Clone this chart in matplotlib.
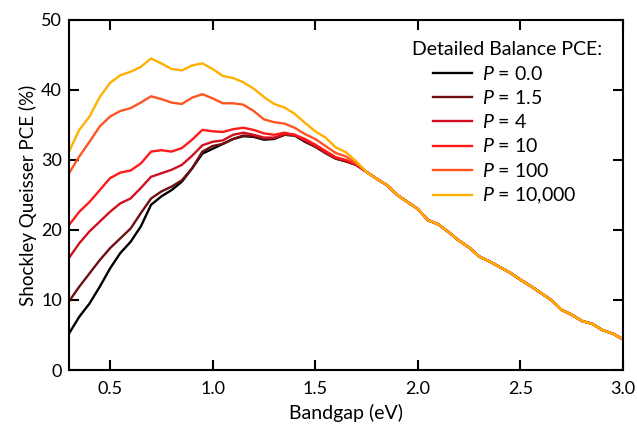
import matplotlib
matplotlib.use("Agg")
import matplotlib.pyplot as plt
import numpy as np

plt.rcParams['font.family'] = ['Lato', 'DejaVu Sans']
plt.rcParams['mathtext.fontset'] = 'custom'
plt.rcParams['mathtext.it'] = 'Lato:italic'
plt.rcParams['mathtext.rm'] = 'Lato'

bandgap = [round(0.30 + 0.05 * i, 2) for i in range(55)]

tail_common = [28.3, 27.3, 26.4, 25.0, 24.0, 23.0, 21.4, 20.8, 19.7, 18.5,
               17.5, 16.2, 15.5, 14.7, 13.9, 12.9, 12.0, 11.0, 10.0, 8.6,
               7.9, 7.0, 6.6, 5.7, 5.2, 4.4]

pce_p0 = [5.2, 7.6, 9.5, 11.9, 14.5, 16.7, 18.3, 20.5, 23.6, 24.8,
          25.7, 26.9, 28.8, 30.9, 31.6, 32.3, 33.0, 33.4, 33.3, 32.9,
          33.0, 33.6, 33.5, 32.6, 31.9, 31.0, 30.2, 29.8, 29.3]
pce_p1_5 = [9.8, 11.9, 13.8, 15.7, 17.4, 18.8, 20.2, 22.4, 24.5, 25.5,
            26.2, 27.1, 28.8, 31.2, 32.0, 32.3, 33.0, 33.5, 33.4, 33.0,
            33.1, 33.6, 33.5, 32.7, 31.9, 31.0, 30.2, 29.8, 29.3]
pce_p4 = [16.0, 18.1, 19.8, 21.2, 22.6, 23.8, 24.5, 26.0, 27.6, 28.1,
          28.6, 29.3, 30.6, 32.1, 32.6, 32.8, 33.6, 33.9, 33.6, 33.2,
          33.2, 33.7, 33.6, 32.8, 32.0, 31.1, 30.3, 29.9, 29.3]
pce_p10 = [20.7, 22.6, 24.0, 25.7, 27.4, 28.2, 28.5, 29.5, 31.2, 31.4,
           31.2, 31.7, 32.9, 34.3, 34.1, 34.0, 34.4, 34.6, 34.3, 33.8,
           33.6, 33.9, 33.6, 33.0, 32.2, 31.3, 30.4, 30.0, 29.4]
pce_p100 = [28.1, 30.5, 32.6, 34.8, 36.2, 37.0, 37.4, 38.2, 39.1, 38.7,
            38.2, 38.0, 38.9, 39.4, 38.8, 38.1, 38.1, 37.9, 37.0, 35.8,
            35.4, 35.2, 34.6, 33.7, 33.0, 32.0, 31.0, 30.5, 29.5]
pce_p10000 = [31.2, 34.3, 36.2, 39.0, 41.0, 42.1, 42.6, 43.3, 44.5, 43.8,
              43.0, 42.8, 43.5, 43.8, 43.0, 42.0, 41.7, 41.1, 40.2, 39.0,
              38.0, 37.5, 36.6, 35.3, 34.1, 33.2, 31.8, 31.1, 29.8]

labels = ["0.0", "1.5", "4", "10", "100", "10,000"]
series = [pce_p0, pce_p1_5, pce_p4, pce_p10, pce_p100, pce_p10000]
colors = ["#000000", "#6e1010", "#d01020", "#ff1a1a", "#ff5520", "#ffb000"]

fig = plt.figure(figsize=(6.37, 4.25), dpi=100)
ax = fig.add_axes([0.1083, 0.1294, 0.8697, 0.8236])

for lab, s, c in zip(labels, series, colors):
    ax.plot(bandgap, s + tail_common, color=c, lw=1.7, label=f"$P$ = {lab}")

ax.set_xlim(0.3, 3.0)
ax.set_ylim(0, 50)
ax.set_xticks([0.5, 1.0, 1.5, 2.0, 2.5, 3.0])
ax.set_yticks([0, 10, 20, 30, 40, 50])
ax.tick_params(direction='in', length=7, width=1.5, top=True, right=True,
               labelsize=13)
ax.tick_params(axis='x', pad=8)
ax.tick_params(axis='y', pad=5)
for sp in ax.spines.values():
    sp.set_linewidth(1.5)
ax.set_xlabel("Bandgap (eV)", fontsize=14, labelpad=5)
ax.set_ylabel("Shockley Queisser PCE (%)", fontsize=13.5, labelpad=3)

leg = ax.legend(loc='upper left', bbox_to_anchor=(0.657, 0.872),
                frameon=False, fontsize=14, handlelength=2.0,
                handletextpad=0.5, labelspacing=0.32, borderpad=0,
                borderaxespad=0)
ax.text(0.620, 0.915, "Detailed Balance PCE:", transform=ax.transAxes,
        fontsize=14, ha='left', va='center')

fig.savefig("out.png", dpi=100)
